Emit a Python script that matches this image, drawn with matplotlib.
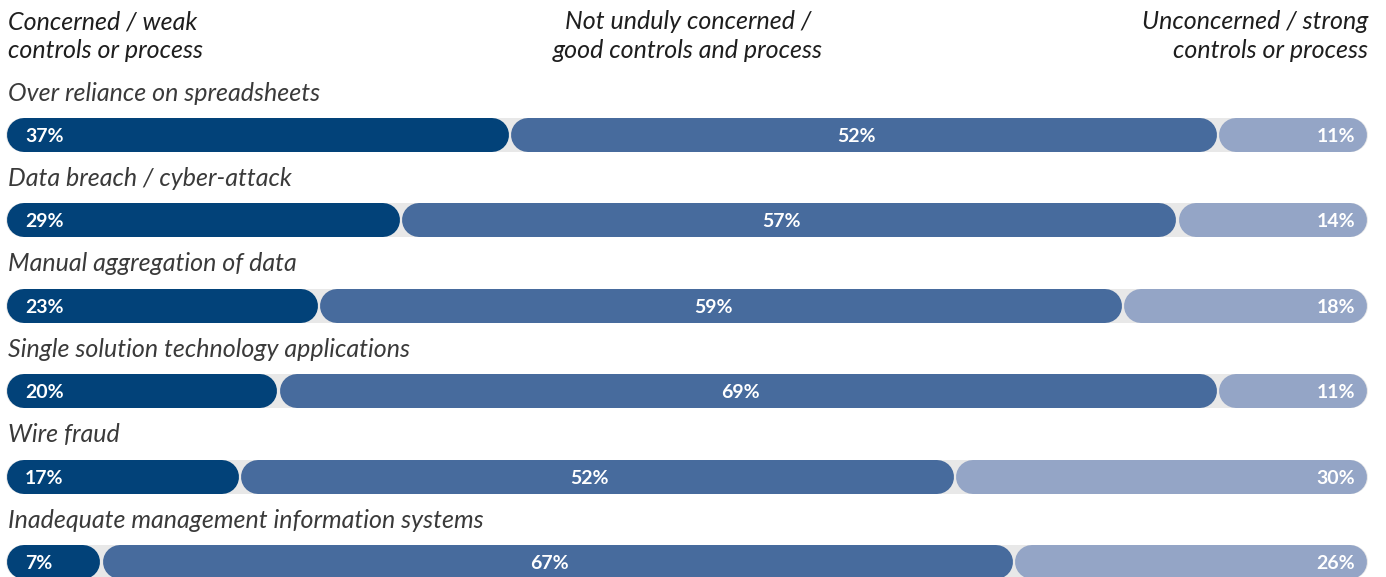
import matplotlib.pyplot as plt

# survey data (percent)
categories = ['Over reliance on spreadsheets', 'Data breach / cyber-attack',
              'Manual aggregation of data', 'Single solution technology applications',
              'Wire fraud', 'Inadequate management information systems']
concerned = [37, 29, 23, 20, 17, 7]
not_unduly = [52, 57, 59, 69, 52, 67]
unconcerned = [11, 14, 18, 11, 30, 26]
headers = ['Concerned / weak\ncontrols or process',
           'Not unduly concerned /\ngood controls and process',
           'Unconcerned / strong\ncontrols or process']

colors = ['#024279', '#476b9d', '#94a5c6']
track = '#e8e8e8'

W, H = 1386, 577
fig = plt.figure(figsize=(W / 100, H / 100), dpi=100)
ax = fig.add_axes([0, 0, 1, 1])
ax.axis('off')

px = 13.62                      # pixels per percent
x0_px, y0_px, row_px = 6, 135, 85.4
ax.set_xlim(-x0_px / px, (W - x0_px) / px)
ax.set_ylim((H - y0_px) / row_px, -y0_px / row_px)

bar_h = 34                       # px
lw = bar_h * 0.72
r = bar_h / 2 / px               # cap radius in data units
gap = 1.2 / px

font = 'Lato'
cat_kw = dict(style='italic', fontsize=18, color='#3a3a3a', family=font)
head_kw = dict(style='italic', fontsize=18, color='#1e1e1e', family=font,
               linespacing=1.3)

for i, cat in enumerate(categories):
    vals = [concerned[i], not_unduly[i], unconcerned[i]]
    tot = sum(vals)
    ax.plot([r, 100 - r], [i, i], color=track, lw=lw, solid_capstyle='round', zorder=1)
    left = 0
    for j, v in enumerate(vals):
        w = v * 100 / tot
        a, b = left + r + gap, left + w - r - gap
        ax.plot([a, b], [i, i], color=colors[j], lw=lw, solid_capstyle='round', zorder=2)
        if j == 0:
            x, ha = left + 19 / px, 'left'
        elif j == 1:
            x, ha = left + w / 2 - 8 / px, 'center'
        else:
            x, ha = 100 - 13 / px, 'right'
        ax.text(x, i, f'{v}%', ha=ha, va='center_baseline', color='white',
                fontsize=14, fontweight='bold', family=font, zorder=3)
        left += w
    ax.text(2 / px, i - 0.49, cat, ha='left', va='center', **cat_kw)

hy = -1.16
ax.text(2 / px, hy, headers[0], ha='left', va='center', **head_kw)
ax.text((688 - x0_px) / px, hy, headers[1], ha='center', va='center', **head_kw)
ax.text(100, hy, headers[2], ha='right', va='center', **head_kw)

fig.savefig('out.png', dpi=100)
